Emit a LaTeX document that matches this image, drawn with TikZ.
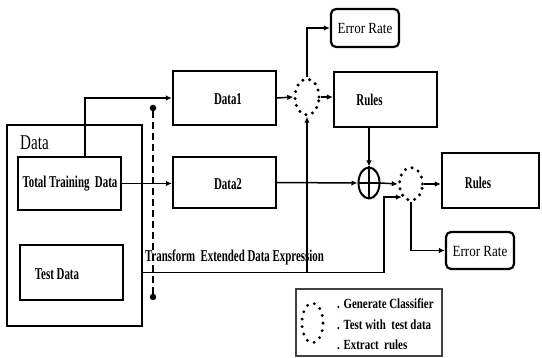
\documentclass[tikz,border=0pt]{standalone}
\usepackage{fontspec}
\setmainfont{Liberation Serif}
\newfontfamily\bcond{Liberation Serif}[FakeStretch=0.66]
\newfontfamily\lcond{Liberation Serif}[FakeStretch=0.78]
\newfontfamily\rcond{Liberation Serif}[FakeStretch=0.72]
\newfontfamily\ecnd{Liberation Serif}[FakeStretch=0.84]
\usetikzlibrary{arrows.meta,calc,shapes.geometric}
\tikzset{
  box/.style={draw, line width=2.2pt, rectangle, inner sep=0pt},
  rbox/.style={draw, line width=2.2pt, rectangle, rounded corners=5pt, inner sep=0pt},
  btxt/.style={font=\bcond\bfseries\fontsize{16.5}{18}\selectfont, inner sep=0pt},
  ltxt/.style={font=\lcond\bfseries\fontsize{14}{16}\selectfont, inner sep=0pt, anchor=base west},
  dotc/.style={draw, ellipse, inner sep=0pt, line width=3.4pt, dash pattern=on 0pt off 7pt, line cap=round},
  conn/.style={line width=1.5pt, -{Latex[length=6pt,width=5.5pt]}},
  blob/.style={circle, fill=black, inner sep=0pt, minimum size=6.5pt}
}
\begin{document}
\begin{tikzpicture}[x=1pt,y=-1pt]
\useasboundingbox (0,0) rectangle (542,358);
% boxes
\node[box, minimum width=135pt, minimum height=201pt] (data) at (74.5,225.5) {};
\node[anchor=base west, inner sep=0pt, font=\rcond\fontsize{21}{23}\selectfont] (datalbl) at (20,150) {Data};
\node[box, minimum width=103pt, minimum height=53pt] (ttd) at (69.5,183.5) {};
\node[btxt] (ttdl) at (70,184) {Total Training\ \ Data};
\node[box, minimum width=103pt, minimum height=55pt] (test) at (71.5,272.5) {};
\node[btxt] (testl) at (57,274) {Test Data};
\node[box, minimum width=103pt, minimum height=54pt] (data1) at (224.5,98) {};
\node[btxt] (data1l) at (228,99) {Data1};
\node[box, minimum width=103pt, minimum height=51pt] (data2) at (224.5,182.5) {};
\node[btxt] (data2l) at (228,184) {Data2};
\node[dotc, minimum width=24pt, minimum height=36pt] (c1) at (307,97) {};
\node[rbox, minimum width=68pt, minimum height=38pt] (err1) at (365,28) {};
\node[font=\ecnd\fontsize{15.5}{17}\selectfont, inner sep=0pt] (err1l) at (365,29) {Error Rate};
\node[box, minimum width=103pt, minimum height=55pt] (rules1) at (385.5,99.5) {};
\node[btxt] (rules1l) at (369.5,100) {Rules};
\node[draw, ellipse, line width=2pt, minimum width=21pt, minimum height=31pt, inner sep=0pt] (plus) at (369,183) {};
\draw[line width=1.5pt] (plus.west) -- (plus.east) (plus.north) -- (plus.south);
\node[dotc, minimum width=23pt, minimum height=33pt] (c2) at (411,184) {};
\node[box, minimum width=97pt, minimum height=55pt] (rules2) at (490.5,180.5) {};
\node[btxt] (rules2l) at (478,183) {Rules};
\node[rbox, minimum width=68pt, minimum height=37pt] (err2) at (480,250.5) {};
\node[font=\ecnd\fontsize{15.5}{17}\selectfont, inner sep=0pt] (err2l) at (480,252) {Error Rate};
% dashed separator
\node[blob] (d1) at (153,108) {};
\node[blob] (d2) at (153,297) {};
\draw[line width=1.3pt, dash pattern=on 7pt off 4pt] (d1) -- (d2);
\node[btxt, anchor=base west] (trans) at (145,262) {Transform\ \ Extended Data Expression};
% connectors
\draw[conn] ([xshift=15.5pt]ttd.north) |- (data1.west);
\draw[conn] (ttd.east) -- (ttd.east -| data2.west);
\draw[conn] (data1.east) -- (c1.west);
\draw[conn] (c1.north) |- (err1.west);
\draw[conn] (c1.east) -- (c1.east -| rules1.west);
\draw[conn] (plus.north |- rules1.south) -- (plus.north);
\draw[conn] (data2.east) -- (plus.west);
\draw[conn] (plus.east) -- (c2.west);
\draw[conn] (c2.east) -- (c2.east -| rules2.west);
\draw[conn] (c2.south) |- (err2.west);
\draw[conn] (data.east |- test.east) -| ([xshift=-18pt]c2.235) -- (c2.235);
\draw[conn] (c1.south |- test.east) -- (c1.south);
% legend
\node[draw=black!75, line width=1.2pt, minimum width=146pt, minimum height=67pt, inner sep=0pt] (legend) at (369,322.5) {};
\node[dotc, minimum width=21pt, minimum height=40pt, line width=3.2pt, dash pattern=on 0pt off 7.5pt] (lc) at (312.5,323) {};
\node[ltxt] (lg1) at (337,308.5) {. Generate Classifier};
\node[ltxt] (lg2) at (337,329.5) {. Test with\ \ test data};
\node[ltxt] (lg3) at (337,349.5) {. Extract\ \ rules};
\end{tikzpicture}
\end{document}
